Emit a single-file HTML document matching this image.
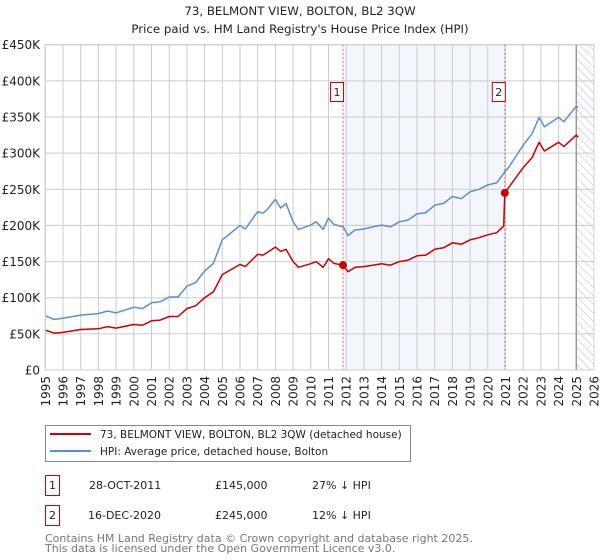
<!DOCTYPE html>
<html><head><meta charset="utf-8"><style>
body{margin:0;background:#fff;}
svg{display:block;font-family:"DejaVu Sans","Liberation Sans",sans-serif;}
</style></head><body>
<svg id="chart" width="600" height="560" viewBox="0 0 600 560">
<text x="300" y="15" text-anchor="middle" font-size="11.8" fill="#222">73, BELMONT VIEW, BOLTON, BL2 3QW</text>
<text x="300" y="33" text-anchor="middle" font-size="11.8" fill="#222">Price paid vs. HM Land Registry's House Price Index (HPI)</text>
<defs><pattern id="hatch" width="6" height="6" patternUnits="userSpaceOnUse" patternTransform="rotate(-45)"><line x1="0" y1="0" x2="0" y2="6" stroke="#bbb" stroke-width="1"/></pattern></defs>
<g id="plot"></g>
<g>
<rect x="45.5" y="425.5" width="365" height="36" fill="#fff" stroke="#888"/>
<line x1="50" y1="434" x2="91" y2="434" stroke="#cc0000" stroke-width="2"/>
<text x="100" y="438" font-size="10.5" fill="#222">73, BELMONT VIEW, BOLTON, BL2 3QW (detached house)</text>
<line x1="50" y1="451" x2="91" y2="451" stroke="#5b8fd0" stroke-width="2"/>
<text x="100" y="455" font-size="10.5" fill="#222">HPI: Average price, detached house, Bolton</text>
</g>
<g font-size="11" fill="#222">
<rect x="45.5" y="475.5" width="14" height="20" fill="none" stroke="#cc0000"/>
<text x="52.5" y="489" text-anchor="middle">1</text>
<text x="89" y="489">28-OCT-2011</text>
<text x="215" y="489">£145,000</text>
<text x="312" y="489">27% ↓ HPI</text>
<rect x="45.5" y="505.5" width="14" height="20" fill="none" stroke="#cc0000"/>
<text x="52.5" y="519" text-anchor="middle">2</text>
<text x="88" y="519">16-DEC-2020</text>
<text x="215" y="519">£245,000</text>
<text x="312" y="519">12% ↓ HPI</text>
</g>
<text x="45" y="542" font-size="11" fill="#777">Contains HM Land Registry data © Crown copyright and database right 2025.</text>
<text x="45" y="552" font-size="11" fill="#777">This data is licensed under the Open Government Licence v3.0.</text>
</svg>
<script>
const yTicks=[0,50,100,150,200,250,300,350,400,450];
const yTickLabels=["£0","£50K","£100K","£150K","£200K","£250K","£300K","£350K","£400K","£450K"];
const xYears=[1995,1996,1997,1998,1999,2000,2001,2002,2003,2004,2005,2006,2007,2008,2009,2010,2011,2012,2013,2014,2015,2016,2017,2018,2019,2020,2021,2022,2023,2024,2025,2026];
const hpiDates=[1995,1995.5,1996,1997,1998,1998.5,1999,2000,2000.5,2001,2001.5,2002,2002.5,2003,2003.5,2004,2004.5,2005,2005.5,2006,2006.3,2007,2007.3,2007.5,2008,2008.3,2008.6,2009,2009.3,2010,2010.3,2010.7,2011,2011.3,2011.83,2012.1,2012.5,2013,2013.5,2014,2014.5,2015,2015.5,2016,2016.5,2017,2017.5,2018,2018.5,2019,2019.5,2020,2020.5,2020.9,2021.2,2022,2022.5,2022.9,2023.2,2024,2024.3,2025,2025.1];
const hpiValues=[75,70,71.5,76,78,81.6,79,86.7,85,93,94.5,101,101,116,121,137,147.5,180,190,200,195,219,217,221,236,224,230.5,205,194.5,200.5,205,194.5,210,201.5,198,186,193.6,195,198,200.5,198,205,207.5,216,217.6,228,230.5,240,237,246.5,250,256,259,272,281,311,327,349.5,336.5,349.5,343.5,365,363];
const priceDates=[1995,1995.5,1996,1997,1998,1998.5,1999,2000,2000.5,2001,2001.5,2002,2002.5,2003,2003.5,2004,2004.5,2005,2005.5,2006,2006.3,2007,2007.3,2007.5,2008,2008.3,2008.6,2009,2009.3,2010,2010.3,2010.7,2011,2011.3,2011.83,2012.1,2012.5,2013,2013.5,2014,2014.5,2015,2015.5,2016,2016.5,2017,2017.5,2018,2018.5,2019,2019.5,2020,2020.5,2020.9,2020.96,2021.2,2022,2022.5,2022.9,2023.2,2024,2024.3,2025,2025.1];
const priceValues=[55,51,52,56,57,60,58,63,62,68,69,74,74,85,89,100,108,132,139,146,143,160,159,162,170,164,167,150,142,147,150,142,154,147.5,145,136,142,143,145,147,145,150,152,158,159,167,169,176,174,180,183,187,190,199,245,253,280,294,315,303,315,309,325,322];
const saleDates=[2011.82,2020.96];
const saleValues=[145,245];
const saleLabels=["1","2"];
const dataEnd=2025.0;

const X0=45.3,X1=594,Y0=370,Y1=44.7,yr0=1995,yr1=2026,vmax=450;
const xs=t=>X0+(t-yr0)*(X1-X0)/(yr1-yr0);
const ys=v=>Y0-v*(Y0-Y1)/vmax;
const NS="http://www.w3.org/2000/svg";
const g=document.getElementById('plot');
function mk(tag,attrs){const e=document.createElementNS(NS,tag);for(const k in attrs)e.setAttribute(k,attrs[k]);g.appendChild(e);return e;}

let e=mk('rect',{x:xs(saleDates[0]),y:Y1,width:xs(saleDates[1])-xs(saleDates[0]),height:Y0-Y1,fill:'#f3f6fd'});


e=mk('rect',{x:xs(dataEnd),y:Y1,width:X1-xs(dataEnd),height:Y0-Y1,fill:'url(#hatch)'});


yTicks.forEach((v,i)=>{
 let l=mk('line',{x1:X0,x2:X1,y1:ys(v),y2:ys(v),stroke:'#ccc','stroke-width':1});
 
 
 let t=mk('text',{x:40,y:ys(v)+4.5,'text-anchor':'end','font-size':12,fill:'#222'});
 t.textContent=yTickLabels[i];
 
 
});
xYears.forEach(yr=>{
 let l=mk('line',{x1:xs(yr),x2:xs(yr),y1:Y1,y2:Y0,stroke:'#ccc','stroke-width':1});
 
 
 let t=mk('text',{x:0,y:0,'text-anchor':'end','font-size':12,fill:'#222',transform:`translate(${xs(yr)+4.5},376) rotate(-90)`});
 t.textContent=yr;
 
 
});
e=mk('line',{x1:xs(dataEnd),x2:xs(dataEnd),y1:Y1,y2:Y0,stroke:'#999','stroke-width':1.5});


saleDates.forEach((d,i)=>{
 let l=mk('line',{x1:xs(d),x2:xs(d),y1:Y1,y2:Y0,stroke:'#ee6666','stroke-width':1,'stroke-dasharray':'2,2'});
 
 
});
function path(ds,vs,col,name){
 let d=ds.map((t,i)=>(i?'L':'M')+xs(t).toFixed(1)+','+ys(vs[i]).toFixed(1)).join('');
 let p=mk('path',{d:d,fill:'none',stroke:col,'stroke-width':1.5,'stroke-linejoin':'round'});
 
 
}
path(hpiDates,hpiValues,'#5b8fd0','hpi-line');
path(priceDates,priceValues,'#cc0000','price-line');
saleDates.forEach((d,i)=>{
 let c=mk('circle',{cx:xs(d),cy:ys(saleValues[i]),r:4,fill:'#cc0000'});
 
 
 let r=mk('rect',{x:xs(d)-12.5,y:82.5,width:13,height:19,fill:'#fff',stroke:'#cc0000'});
 
 
 let t=mk('text',{x:xs(d)-6,y:96,'text-anchor':'middle','font-size':11,fill:'#222'});
 t.textContent=saleLabels[i];
 
 
});
e=mk('rect',{x:X0,y:Y1,width:X1-X0,height:Y0-Y1,fill:'none',stroke:'#ccc'});


</script>
</body></html>
